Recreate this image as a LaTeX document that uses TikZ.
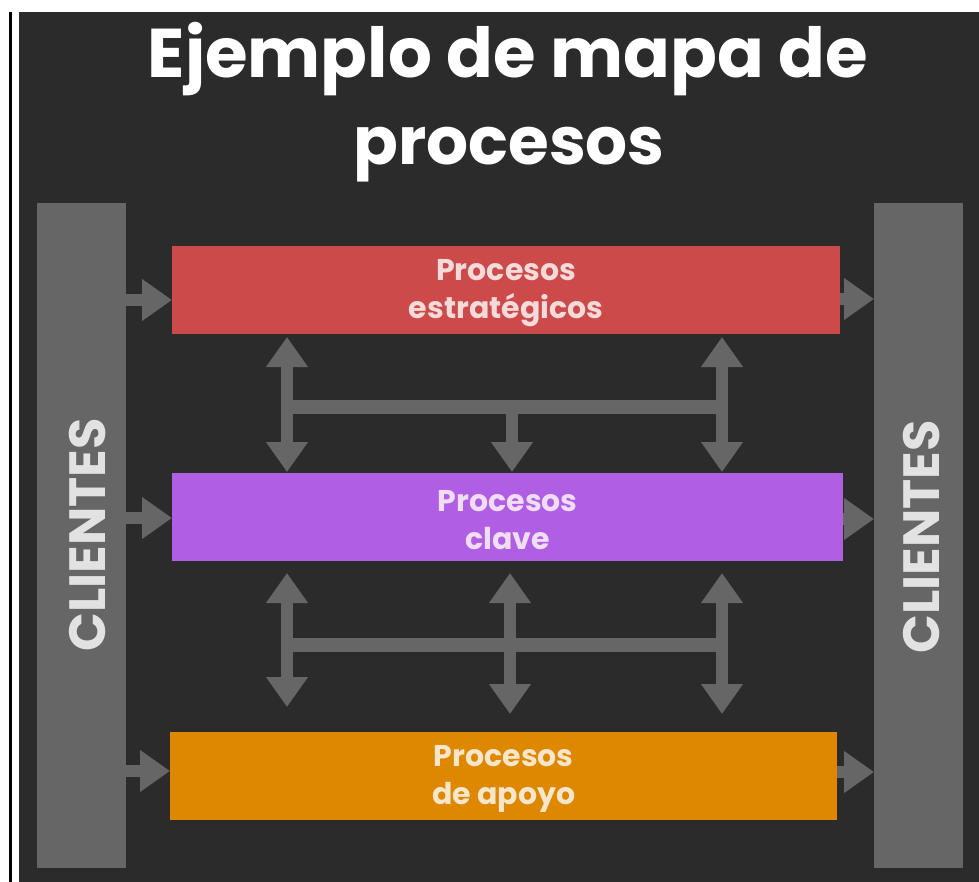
\documentclass[tikz,border=0pt]{standalone}
\usepackage{fontspec}
\setmainfont{Poppins}
\usetikzlibrary{arrows.meta}
\definecolor{bgdark}{HTML}{2B2B2B}
\definecolor{cgray}{HTML}{666666}
\definecolor{cred}{HTML}{CC4A4A}
\definecolor{cpurple}{HTML}{B05EE3}
\definecolor{corange}{HTML}{DD8800}
\definecolor{tred}{HTML}{F5DADA}
\definecolor{tpurple}{HTML}{F0DDF8}
\definecolor{torange}{HTML}{F8E6CC}
\definecolor{tgray}{HTML}{E2E2E2}
\begin{document}
\begin{tikzpicture}[x=1pt,y=-1pt,
  clientbar/.style={fill=cgray, draw=none, inner sep=0pt, minimum width=89pt, minimum height=665pt, anchor=north west},
  procbox/.style={draw=none, inner sep=0pt, anchor=north west, minimum height=88pt, align=center,
    font=\bfseries\fontsize{30}{38}\selectfont},
  clitext/.style={rotate=90, text=tgray, font=\bfseries\fontsize{51}{51}\selectfont},
  conn/.style={draw=cgray, line width=12pt, -{Triangle[width=40pt,length=30pt]}},
  conntwo/.style={draw=cgray, line width=12pt, {Triangle[width=40pt,length=30pt]}-{Triangle[width=40pt,length=30pt]}},
  busline/.style={draw=cgray, line width=14pt},
  titletext/.style={text=white, font=\bfseries\fontsize{69}{69}\selectfont}]
\useasboundingbox (0,0) rectangle (979,882);
\fill[white] (0,0) rectangle (979,882);
\fill[black] (9,12) rectangle (12,882);
\fill[bgdark] (19,12) rectangle (979,882);

% title
\node[titletext] (t1) at (508,59) {Ejemplo de mapa de};
\node[titletext, font=\bfseries\fontsize{66}{66}\selectfont] (t2) at (509,155) {procesos};

% client bars
\node[clientbar] (L) at (37,203) {};
\node[clientbar] (R) at (874,203) {};
\node[clitext] (Lt) at (88,535) {CLIENTES};
\node[clitext] (Rt) at (922,537) {CLIENTES};

% process boxes
\node[procbox, fill=cred, text=tred, minimum width=668pt] (red) at (172,246) {\rule{0pt}{26pt}Procesos\\estratégicos};
\node[procbox, fill=cpurple, text=tpurple, minimum width=671pt] (pur) at (172,473) {\rule{0pt}{26pt}Procesos\\clave};
\node[procbox, fill=corange, text=torange, minimum width=667pt] (ora) at (170,732) {\rule{0pt}{26pt}Procesos\\de apoyo};

% in/out arrows
\draw[conn] (L.east |- 0,300) -- (red.west |- 0,300);
\draw[conn] (L.east |- 0,518) -- (pur.west |- 0,518);
\draw[conn] (L.east |- 0,771) -- (ora.west |- 0,771);
\draw[conn] (red.east |- 0,299) -- (R.west |- 0,299);
\draw[conn] (pur.east |- 0,519) -- (R.west |- 0,519);
\draw[conn] (ora.east |- 0,772) -- (R.west |- 0,772);

% upper group
\coordinate (ua) at (287,337);
\coordinate (ub) at (287,472);
\coordinate (uc) at (722,337);
\coordinate (ud) at (722,472);
\coordinate (um) at (512,407);
\coordinate (un) at (512,472);
\coordinate (ul) at (287,407);
\coordinate (ur) at (722,407);
\draw[busline] (ul) -- (ur);
\draw[conntwo] (ua) -- (ub);
\draw[conntwo] (uc) -- (ud);
\draw[conn] (um) -- (un);

% lower group
\coordinate (la) at (287,573);
\coordinate (lb) at (287,707);
\coordinate (lc) at (510,573);
\coordinate (ld) at (510,714);
\coordinate (le) at (722,573);
\coordinate (lf) at (722,714);
\coordinate (ll) at (287,645);
\coordinate (lr) at (722,645);
\draw[busline] (ll) -- (lr);
\draw[conntwo] (la) -- (lb);
\draw[conntwo] (lc) -- (ld);
\draw[conntwo] (le) -- (lf);
\end{tikzpicture}
\end{document}
